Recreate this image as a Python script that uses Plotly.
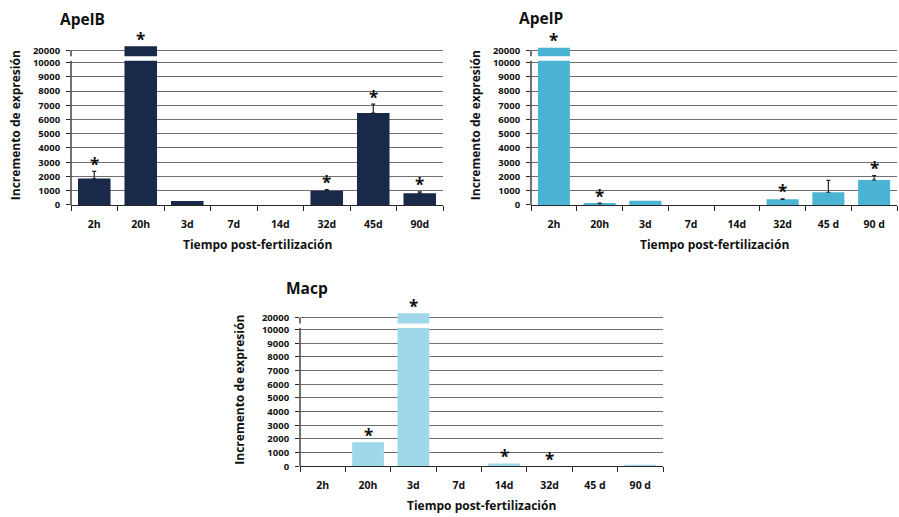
import plotly.graph_objects as go

W, H = 899, 517

# ---- data -------------------------------------------------------------
categories_apelb = ["2h", "20h", "3d", "7d", "14d", "32d", "45d", "90d"]
categories_apelp = ["2h", "20h", "3d", "7d", "14d", "32d", "45 d", "90 d"]
categories_macp = ["2h", "20h", "3d", "7d", "14d", "32d", "45 d", "90 d"]

apelb_values = [1850, 23500, 280, 0, 0, 1000, 6450, 810]
apelb_errors = [500, 0, 0, 0, 0, 80, 630, 110]
apelb_signif = [True, True, False, False, False, True, True, True]

apelp_values = [22200, 80, 300, 0, 0, 390, 890, 1750]
apelp_errors = [0, 40, 0, 0, 0, 40, 830, 300]
apelp_signif = [True, True, False, False, False, True, False, True]

macp_values = [0, 1760, 24100, 0, 200, 0, 0, 110]
macp_errors = [0, 0, 0, 0, 0, 0, 0, 0]
macp_signif = [False, True, True, False, True, True, False, False]

y_tick_values = [0, 1000, 2000, 3000, 4000, 5000, 6000, 7000, 8000, 9000, 10000, 20000]
y_tick_labels = ["0", "1000", "2000", "3000", "4000", "5000", "6000", "7000",
                 "8000", "9000", "10000", "20000"]

# ---- broken axis scale ------------------------------------------------
BREAK = 10000
UPPER_UNITS_PER_10K = 0.85


def to_axis(v):
    """Map an expression value onto the broken y scale (1 unit = 1000 below the break)."""
    if v <= BREAK:
        return v / 1000.0
    return BREAK / 1000.0 + (v - BREAK) / 10000.0 * UPPER_UNITS_PER_10K


GAP_LO = 10.12
GAP_HI = 10.45
Y_TOP = 11.45

FONT = "Open Sans"
AXIS_COLOR = "#262626"
GRID_COLOR = "#707070"


def px_x(px):
    return px / W


def px_y(px):
    return (H - px) / H


panels = [
    dict(name="ApelB", cats=categories_apelb, vals=apelb_values, errs=apelb_errors,
         sig=apelb_signif, color="#18294a", x0=71, x1=443, zero=207.3, unit=14.4,
         title_xy=(58, 19), ytitle_x=15),
    dict(name="ApelP", cats=categories_apelp, vals=apelp_values, errs=apelp_errors,
         sig=apelp_signif, color="#4bb4d4", x0=531, x1=897, zero=207.3, unit=14.4,
         title_xy=(517, 18), ytitle_x=475),
    dict(name="Macp", cats=categories_macp, vals=macp_values, errs=macp_errors,
         sig=macp_signif, color="#9fd8ea", x0=300, x1=663, zero=471.7, unit=13.83,
         title_xy=(284, 291), ytitle_x=240),
]

fig = go.Figure()
shapes = []
annotations = []
layout_axes = {}

for k, p in enumerate(panels, start=1):
    xa = "x" if k == 1 else f"x{k}"
    ya = "y" if k == 1 else f"y{k}"
    xkey = "xaxis" if k == 1 else f"xaxis{k}"
    ykey = "yaxis" if k == 1 else f"yaxis{k}"

    top_px = p["zero"] - Y_TOP * p["unit"]
    layout_axes[xkey] = dict(
        domain=[px_x(p["x0"]), px_x(p["x1"])], anchor=ya, type="category",
        range=[-0.5, 7.5], showline=True, linecolor=AXIS_COLOR, linewidth=1.3,
        ticks="outside", tickson="boundaries", ticklen=5, tickcolor=AXIS_COLOR,
        tickwidth=1.3, showgrid=False, ticklabelstandoff=9,
        categoryorder="array", categoryarray=p["cats"],
        tickfont=dict(family=FONT, size=10.5, color="#111111", weight="bold"),
        fixedrange=True,
    )
    layout_axes[ykey] = dict(
        domain=[px_y(p["zero"]), px_y(top_px)], anchor=xa, range=[0, Y_TOP],
        tickmode="array", tickvals=[to_axis(v) for v in y_tick_values],
        ticktext=y_tick_labels, ticks="outside", ticklen=4, tickcolor=AXIS_COLOR,
        tickwidth=1.2, showline=False, showgrid=True, gridcolor=GRID_COLOR,
        gridwidth=1, zeroline=False, ticklabelstandoff=4,
        tickfont=dict(family=FONT, size=9.5, color="#111111", weight="bold"),
        fixedrange=True,
    )

    bar_y = [to_axis(v) for v in p["vals"]]
    fig.add_trace(go.Bar(
        x=p["cats"], y=bar_y, xaxis=xa, yaxis=ya, marker_color=p["color"],
        marker_line_width=0, width=0.7, showlegend=False, hoverinfo="skip",
    ))

    # upward whiskers only where a standard error exists
    ex, ey, eplus = [], [], []
    for c, v, e in zip(p["cats"], p["vals"], p["errs"]):
        if e > 0 and v <= BREAK:
            ex.append(c)
            ey.append(to_axis(v))
            eplus.append(to_axis(v + e) - to_axis(v))
    if ex:
        fig.add_trace(go.Scatter(
            x=ex, y=ey, xaxis=xa, yaxis=ya, mode="markers",
            marker=dict(size=1, opacity=0),
            error_y=dict(type="data", symmetric=False, array=eplus,
                         arrayminus=[0] * len(eplus), color="#222222",
                         thickness=1.2, width=2),
            showlegend=False, hoverinfo="skip",
        ))

    # broken-bar gaps and broken y-axis line
    for i, v in enumerate(p["vals"]):
        if v > BREAK:
            shapes.append(dict(type="rect", xref=xa, yref=ya, x0=i - 0.37, x1=i + 0.37,
                               y0=GAP_LO, y1=GAP_HI, fillcolor="white",
                               line=dict(width=0), layer="above"))
    shapes.append(dict(type="line", xref=f"{xa} domain", yref=ya, x0=0, x1=0,
                       y0=0, y1=GAP_LO, line=dict(color=AXIS_COLOR, width=1.3)))
    shapes.append(dict(type="line", xref=f"{xa} domain", yref=ya, x0=0, x1=0,
                       y0=GAP_HI, y1=to_axis(20000), line=dict(color=AXIS_COLOR, width=1.3)))

    # significance asterisks
    for i, (v, e, s) in enumerate(zip(p["vals"], p["errs"], p["sig"])):
        if s:
            annotations.append(dict(
                x=p["cats"][i], y=to_axis(v + e), xref=xa, yref=ya, text="*",
                showarrow=False, yanchor="middle", yshift=7,
                font=dict(family=FONT, size=17, color="#111111", weight="bold"),
            ))

    # panel title
    annotations.append(dict(
        x=px_x(p["title_xy"][0]), y=px_y(p["title_xy"][1]), xref="paper", yref="paper",
        text=p["name"], showarrow=False, xanchor="left", yanchor="middle",
        font=dict(family=FONT, size=15.5, color="#111111", weight="bold"),
    ))
    # axis titles
    annotations.append(dict(
        x=px_x(p["ytitle_x"]), y=px_y(p["zero"] - 5.6 * p["unit"]), xref="paper",
        yref="paper", text="Incremento de expresión", showarrow=False, textangle=-90,
        xanchor="center", yanchor="middle",
        font=dict(family=FONT, size=12, color="#111111", weight="bold"),
    ))
    annotations.append(dict(
        x=px_x((p["x0"] + p["x1"]) / 2), y=px_y(p["zero"] + 40), xref="paper",
        yref="paper", text="Tiempo post-fertilización", showarrow=False,
        xanchor="center", yanchor="middle",
        font=dict(family=FONT, size=12, color="#111111", weight="bold"),
    ))

fig.update_layout(
    width=W, height=H, margin=dict(l=0, r=0, t=0, b=0),
    paper_bgcolor="white", plot_bgcolor="white",
    bargap=0.3, shapes=shapes, annotations=annotations,
    **layout_axes,
)

fig.write_html("out.html")
